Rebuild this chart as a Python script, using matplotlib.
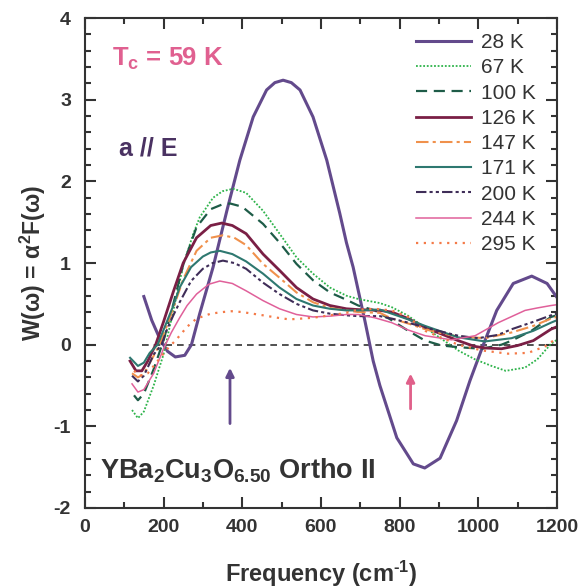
import matplotlib
matplotlib.use("Agg")
import matplotlib.pyplot as plt
from matplotlib.ticker import MultipleLocator

plt.rcParams['font.family'] = ['Liberation Sans', 'DejaVu Sans']
plt.rcParams['mathtext.fontset'] = 'custom'
plt.rcParams['mathtext.rm'] = 'Liberation Sans:bold'
plt.rcParams['mathtext.it'] = 'Liberation Sans:bold'
plt.rcParams['mathtext.bf'] = 'Liberation Sans:bold'
plt.rcParams['axes.unicode_minus'] = False

# data
x_28 = [150, 170, 190, 210, 230, 254, 271, 292, 326, 361, 394, 428, 462, 483, 504, 525, 547, 580, 615,
        648, 665, 682, 712, 733, 750, 793, 835, 864, 903, 945, 979, 1013, 1047, 1089, 1136, 1175, 1200]
w_28 = [0.59, 0.30, 0.08, -0.08, -0.15, -0.13, 0.0, 0.38, 0.95, 1.64, 2.26, 2.79, 3.12, 3.21, 3.24, 3.21,
        3.12, 2.79, 2.26, 1.61, 1.25, 0.95, 0.29, -0.20, -0.50, -1.14, -1.46, -1.51, -1.39, -0.93,
        -0.44, 0.0, 0.42, 0.75, 0.84, 0.75, 0.58]

x_67 = [120, 135, 150, 175, 200, 225, 250, 275, 292, 326, 350, 377, 410, 453, 495, 538, 580, 623, 665,
        695, 750, 780, 820, 865, 907, 949, 992, 1034, 1070, 1119, 1150, 1185, 1200]
w_67 = [-0.80, -0.90, -0.82, -0.50, -0.12, 0.42, 0.97, 1.35, 1.56, 1.80, 1.88, 1.91, 1.86, 1.64, 1.36,
        1.07, 0.87, 0.70, 0.60, 0.56, 0.51, 0.46, 0.36, 0.21, 0.07, -0.07, -0.18, -0.26, -0.32, -0.28,
        -0.18, 0.01, 0.06]

x_100 = [125, 135, 150, 175, 200, 225, 250, 284, 320, 350, 369, 400, 453, 495, 538, 580, 623, 665, 695,
         737, 780, 822, 865, 907, 949, 1009, 1059, 1085, 1135, 1185, 1200]
w_100 = [-0.62, -0.68, -0.60, -0.30, 0.05, 0.50, 0.98, 1.44, 1.66, 1.72, 1.73, 1.69, 1.48, 1.25, 0.99,
         0.79, 0.64, 0.55, 0.48, 0.42, 0.30, 0.17, 0.05, -0.01, -0.03, -0.05, 0.0, 0.05, 0.17, 0.34, 0.36]

x_126 = [115, 130, 145, 160, 180, 200, 225, 250, 284, 320, 348, 375, 410, 453, 495, 538, 580, 623, 665,
         695, 750, 780, 822, 865, 907, 949, 990, 1017, 1059, 1100, 1140, 1185, 1200]
w_126 = [-0.20, -0.32, -0.32, -0.20, 0.0, 0.28, 0.65, 1.00, 1.31, 1.46, 1.49, 1.46, 1.36, 1.11, 0.91,
         0.70, 0.56, 0.48, 0.44, 0.43, 0.42, 0.40, 0.32, 0.21, 0.13, 0.05, -0.02, -0.04, -0.05, -0.01,
         0.05, 0.19, 0.22]

x_147 = [120, 135, 150, 170, 190, 210, 225, 250, 284, 320, 351, 380, 410, 453, 495, 538, 580, 623, 665,
         695, 750, 780, 822, 865, 907, 949, 1017, 1085, 1140, 1185, 1200]
w_147 = [-0.35, -0.40, -0.36, -0.18, 0.0, 0.25, 0.45, 0.80, 1.15, 1.31, 1.34, 1.31, 1.22, 0.99, 0.82,
         0.64, 0.52, 0.45, 0.42, 0.40, 0.39, 0.32, 0.26, 0.19, 0.14, 0.10, 0.08, 0.15, 0.23, 0.32, 0.34]

x_171 = [115, 135, 150, 165, 185, 200, 225, 241, 270, 300, 320, 343, 375, 410, 453, 495, 538, 580, 623,
         665, 695, 750, 780, 822, 865, 907, 949, 1017, 1085, 1140, 1185, 1200]
w_171 = [-0.16, -0.26, -0.22, -0.10, 0.0, 0.18, 0.48, 0.70, 0.95, 1.08, 1.13, 1.15, 1.11, 1.02, 0.87,
         0.70, 0.56, 0.48, 0.44, 0.42, 0.42, 0.43, 0.38, 0.31, 0.23, 0.16, 0.09, 0.04, 0.08, 0.17, 0.27,
         0.30]

x_200 = [120, 135, 150, 175, 195, 210, 225, 241, 270, 300, 325, 351, 380, 410, 453, 495, 538, 580, 623,
         665, 695, 750, 780, 822, 865, 907, 949, 1000, 1050, 1085, 1140, 1185, 1200]
w_200 = [-0.38, -0.45, -0.38, -0.12, 0.0, 0.20, 0.36, 0.52, 0.78, 0.93, 1.00, 1.03, 1.00, 0.93, 0.76,
         0.62, 0.50, 0.42, 0.38, 0.36, 0.35, 0.35, 0.32, 0.27, 0.21, 0.16, 0.11, 0.08, 0.12, 0.19, 0.28,
         0.36, 0.38]

x_244 = [120, 135, 150, 175, 200, 220, 241, 260, 284, 315, 343, 375, 410, 453, 495, 538, 580, 623, 665,
         695, 737, 780, 822, 865, 932, 992, 1051, 1119, 1150, 1185, 1200]
w_244 = [-0.48, -0.58, -0.55, -0.35, -0.05, 0.15, 0.33, 0.48, 0.62, 0.74, 0.78, 0.75, 0.66, 0.54, 0.44,
         0.37, 0.34, 0.35, 0.37, 0.37, 0.33, 0.27, 0.18, 0.11, 0.06, 0.11, 0.27, 0.42, 0.45, 0.48, 0.49]

x_295 = [125, 140, 160, 185, 210, 230, 241, 260, 284, 320, 350, 373, 400, 453, 490, 520, 580, 623, 665,
         695, 737, 780, 822, 865, 949, 1009, 1076, 1127, 1170, 1200]
w_295 = [-0.32, -0.38, -0.35, -0.20, -0.05, 0.05, 0.11, 0.22, 0.32, 0.38, 0.40, 0.41, 0.40, 0.36, 0.33,
         0.31, 0.33, 0.36, 0.39, 0.43, 0.44, 0.42, 0.34, 0.17, 0.0, -0.07, -0.11, -0.10, -0.02, 0.08]

fig = plt.figure(figsize=(5.85, 5.87), dpi=100)
ax = fig.add_axes([0.145, 0.1346, 0.807, 0.8345])

ax.plot([145, 1200], [0, 0], color='#333333', lw=1.2, ls=(0, (4, 3)))

ax.plot(x_28, w_28, color='#634a8c', lw=2.2, label='28 K')
ax.plot(x_67, w_67, color='#2db34a', lw=1.3, ls=(0, (1, 1)), label='67 K')
ax.plot(x_100, w_100, color='#1e5c48', lw=1.6, ls=(0, (5, 3)), label='100 K')
ax.plot(x_126, w_126, color='#7a1f45', lw=2.0, label='126 K')
ax.plot(x_147, w_147, color='#f0914c', lw=1.5, ls=(0, (6, 2, 1.5, 2)), label='147 K')
ax.plot(x_171, w_171, color='#2e7870', lw=1.5, label='171 K')
ax.plot(x_200, w_200, color='#3f2d58', lw=1.5, ls=(0, (5, 1.5, 1.5, 1.5, 1.5, 1.5)), label='200 K')
ax.plot(x_244, w_244, color='#e0609a', lw=1.1, label='244 K')
ax.plot(x_295, w_295, color='#f47a48', lw=1.6, ls=(0, (1, 2.5)), label='295 K')

# arrows
ax.annotate('', xy=(369, -0.25), xytext=(369, -1.0),
            arrowprops=dict(arrowstyle='-|>', color='#634a8c', lw=2, mutation_scale=12))
ax.annotate('', xy=(828, -0.32), xytext=(828, -0.82),
            arrowprops=dict(arrowstyle='-|>', color='#e0608a', lw=2, mutation_scale=12))

ax.text(68, 3.5, r'T$_\mathregular{c}$ = 59 K', color='#e06090', fontsize=18.5, fontweight='bold', va='center')
ax.text(88, 2.4, 'a // E', color='#4a3262', fontsize=18, fontweight='bold', va='center')
ax.text(38, -1.54, r'YBa$_2$Cu$_3$O$_{6.50}$ Ortho II', color='#333333', fontsize=19.5,
        fontweight='bold', va='center')

ax.set_xlim(0, 1200)
ax.set_ylim(-2, 4)
ax.xaxis.set_major_locator(MultipleLocator(200))
ax.xaxis.set_minor_locator(MultipleLocator(100))
ax.yaxis.set_major_locator(MultipleLocator(1))
ax.yaxis.set_minor_locator(MultipleLocator(0.2))
ax.tick_params(which='both', direction='in', top=True, right=True, colors='#333333', width=1.5)
ax.tick_params(which='major', length=8, labelsize=14)
ax.tick_params(axis='x', which='major', pad=8)
ax.tick_params(axis='y', which='major', pad=10)
ax.tick_params(which='minor', length=4)
for lab in ax.get_xticklabels() + ax.get_yticklabels():
    lab.set_fontweight('bold')
for s in ax.spines.values():
    s.set_linewidth(1.5)
    s.set_color('#333333')

ax.set_xlabel(r'Frequency (cm$^{\text{-1}}$)', fontsize=17, fontweight='bold', color='#333333', labelpad=16)
ax.set_ylabel(r'W($\omega$) = $\alpha^\mathregular{2}$F($\omega$)', fontsize=16.5, fontweight='bold',
              color='#333333', labelpad=4)

leg = ax.legend(loc='upper left', bbox_to_anchor=(0.674, 0.995), frameon=False, fontsize=15,
                handlelength=2.65, labelspacing=0.3, handletextpad=0.5, borderaxespad=0.2)
for t in leg.get_texts():
    t.set_color('#333333')

fig.savefig('out.png', dpi=100)
